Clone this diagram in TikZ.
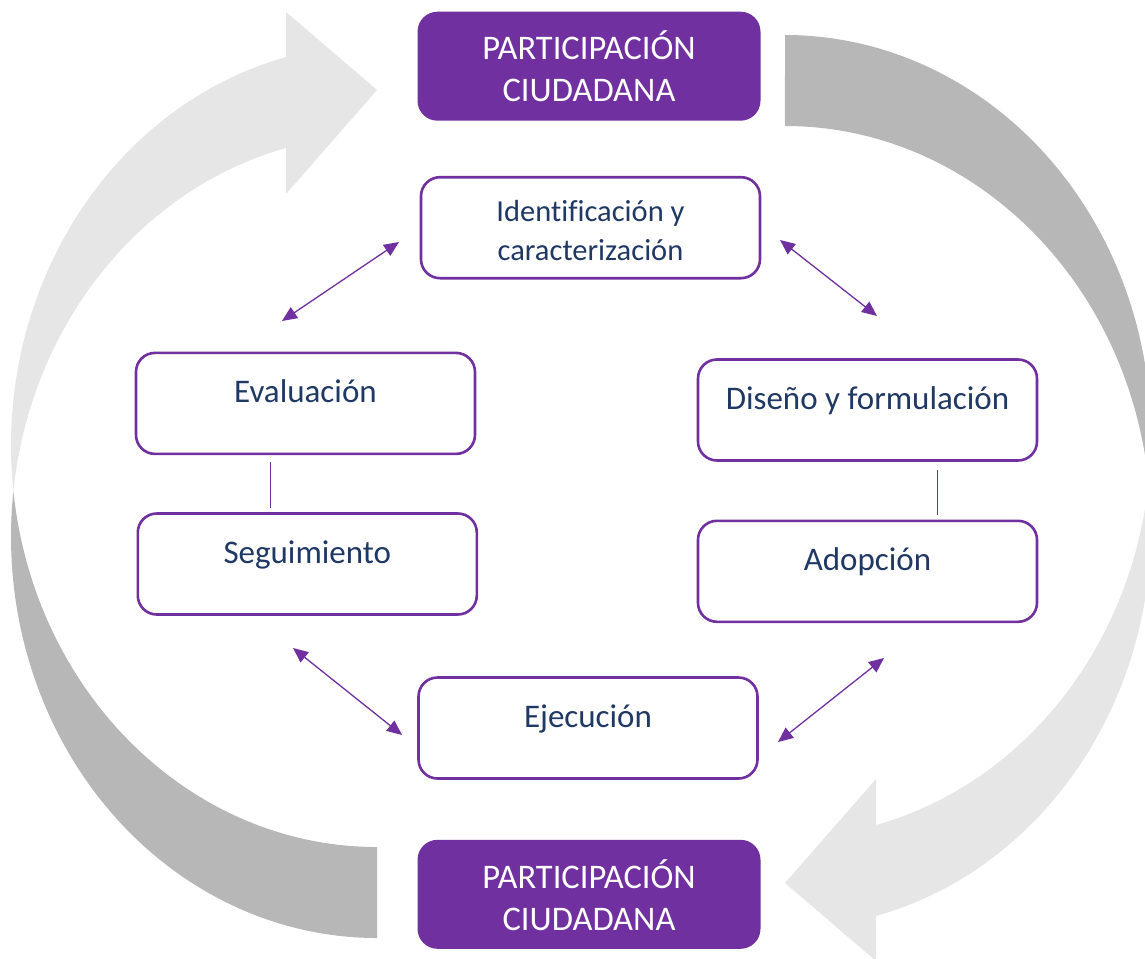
\documentclass[tikz,border=0pt]{standalone}
\usepackage{fontspec}
\setmainfont{Carlito}[Ligatures=CommonOff]
\usetikzlibrary{arrows.meta,calc}
\definecolor{purp}{HTML}{7030A0}
\definecolor{navy}{HTML}{1F3864}
\definecolor{lightg}{HTML}{E6E6E6}
\definecolor{darkg}{HTML}{B7B7B7}
\newcommand{\bandpair}{%
  \fill[lightg] (13.4,491.2)
    arc[start angle=173.49, end angle=255.6, x radius=366, y radius=401.3]
    -- (286,12) -- (377,90) -- (286,194) -- (286,148)
    arc[start angle=255.6, end angle=186.51, x radius=366, y radius=401.3]
    -- cycle;
  \fill[darkg] (13.4,491.2)
    arc[start angle=173.49, end angle=90, x radius=366, y radius=401.3]
    -- (377,938)
    arc[start angle=90, end angle=186.51, x radius=366, y radius=401.3]
    -- cycle;}
\begin{document}
\begin{tikzpicture}[x=1pt,y=-1pt,
  stagebox/.style={draw=purp, fill=white, line width=2.6pt, rounded corners=19pt,
    minimum width=339pt, minimum height=101pt, inner sep=0pt, outer sep=0pt},
  partbox/.style={fill=purp, rounded corners=20pt, minimum width=343pt,
    minimum height=109pt, inner sep=0pt, outer sep=0pt},
  stagetext/.style={text=navy, font=\fontsize{33}{39}\selectfont, inner sep=0pt, anchor=base},
  stagetwo/.style={text=navy, font=\fontsize{30.5}{39}\selectfont, inner sep=0pt, anchor=base, align=center},
  parttext/.style={text=white, font=\fontsize{34.5}{41.7}\selectfont, inner sep=0pt, anchor=base, align=center},
  link/.style={draw=purp, line width=1pt},
  dbl/.style={draw=purp, line width=1.3pt, >={Triangle[length=15pt,width=13pt]}, <->}
]
\useasboundingbox (0,0) rectangle (1145,958);
\clip (0,0) rectangle (1145,958);

% big curved arrows
\bandpair
\begin{scope}[rotate around={180:(581,486.5)}]
  \bandpair
\end{scope}

% boxes
\node[partbox] (ptop) at (589,66.2) {};
\node[parttext] (tptop) at ($(ptop.center)+(0,34.8)$) {PARTICIPACIÓN\\CIUDADANA};
\node[partbox] (pbot) at (589,894.3) {};
\node[parttext] (tpbot) at ($(pbot.center)+(0,35.7)$) {PARTICIPACIÓN\\CIUDADANA};

\node[stagebox] (ident) at (590.5,227.7) {};
\node[stagetwo] (tident) at ($(ident.center)+(0,33)$) {Identificación y\\caracterización};
\node[stagebox] (eval) at (305.5,403.4) {};
\node[stagetext] (teval) at ($(eval.center)+(0,-1)$) {Evaluación};
\node[stagebox] (seg) at (307.3,564) {};
\node[stagetext] (tseg) at ($(seg.center)+(0,-0.7)$) {Seguimiento};
\node[stagebox] (dis) at (867.5,410) {};
\node[stagetext] (tdis) at ($(dis.center)+(0,-0.7)$) {Diseño y formulación};
\node[stagebox] (adop) at (867.5,571.3) {};
\node[stagetext] (tadop) at ($(adop.center)+(0,-0.7)$) {Adopción};
\node[stagebox] (ejec) at (588,728) {};
\node[stagetext] (tejec) at ($(ejec.center)+(0,-0.5)$) {Ejecución};

% thin links
\coordinate (l1a) at (270,462);
\coordinate (l1b) at (270,508);
\coordinate (l2a) at (937.5,470);
\coordinate (l2b) at (937.5,515);
\draw[link] (l1a) -- (l1b);
\draw[link] (l2a) -- (l2b);

% double arrows
\coordinate (a1s) at (282,321);
\coordinate (a1e) at (399,242);
\coordinate (a2s) at (780,240);
\coordinate (a2e) at (877,316);
\coordinate (a3s) at (293,648);
\coordinate (a3e) at (402,735);
\coordinate (a4s) at (884,658);
\coordinate (a4e) at (778,742);
\draw[dbl] (a1s) -- (a1e);
\draw[dbl] (a2s) -- (a2e);
\draw[dbl] (a3s) -- (a3e);
\draw[dbl] (a4s) -- (a4e);
\end{tikzpicture}
\end{document}
